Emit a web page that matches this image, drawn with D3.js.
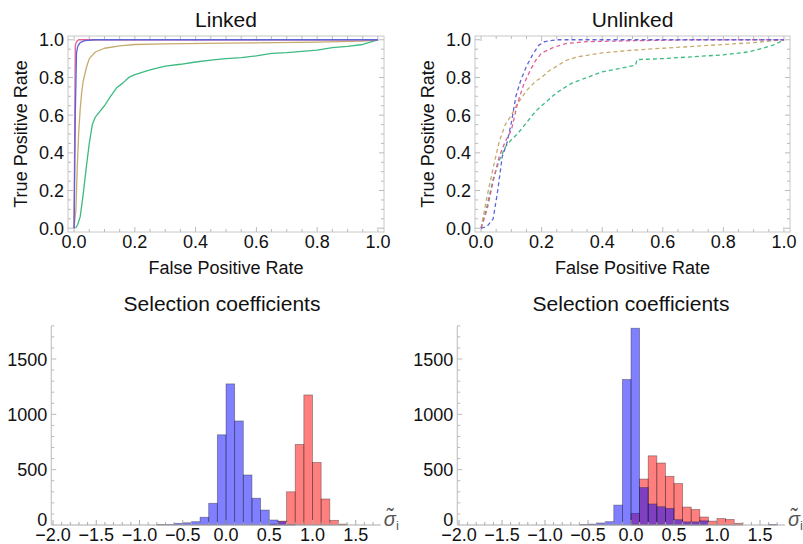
<!DOCTYPE html>
<html><head><meta charset="utf-8">
<script src="https://cdn.jsdelivr.net/npm/d3@7"></script>
<style>
body{margin:0;background:#fff}
text{font-family:"Liberation Sans",Arial,Helvetica,sans-serif;fill:#111}
</style>
</head><body>
<svg id="c" width="803" height="544"></svg>
<script>
// ---------- ROC data (False Positive Rate, True Positive Rate) ----------
const linkedBlue  = [[0,0],[0.004,0.6],[0.008,0.93],[0.012,0.965],[0.02,0.985],[0.035,0.995],[0.07,1],[1,1]];
const linkedPink  = [[0,0],[0.002,0.5],[0.004,0.97],[0.008,0.99],[0.015,1],[1,1]];
const linkedTan   = [[0,0],[0.006,0.1],[0.01,0.3],[0.015,0.5],[0.02,0.63],[0.025,0.72],[0.03,0.78],[0.04,0.85],[0.05,0.9],[0.07,0.935],[0.1,0.955],[0.15,0.968],[0.2,0.975],[0.3,0.978],[0.5,0.982],[0.8,0.988],[0.95,0.993],[1,1]];
const linkedGreen = [[0.005,0],[0.012,0.02],[0.02,0.06],[0.03,0.18],[0.04,0.32],[0.05,0.45],[0.06,0.55],[0.07,0.59],[0.085,0.62],[0.1,0.65],[0.12,0.7],[0.14,0.745],[0.16,0.77],[0.18,0.8],[0.2,0.815],[0.25,0.84],[0.3,0.86],[0.35,0.87],[0.4,0.882],[0.45,0.892],[0.5,0.9],[0.55,0.905],[0.6,0.915],[0.65,0.928],[0.7,0.932],[0.75,0.938],[0.8,0.945],[0.85,0.958],[0.9,0.965],[0.95,0.975],[0.98,0.99],[1,1]];

const unlinkedBlue  = [[0,0],[0.02,0.01],[0.04,0.05],[0.055,0.2],[0.07,0.38],[0.085,0.45],[0.1,0.56],[0.115,0.7],[0.13,0.78],[0.15,0.86],[0.17,0.92],[0.19,0.97],[0.21,0.99],[0.25,1],[0.3,1],[1,1]];
const unlinkedPink  = [[0,0],[0.02,0.1],[0.04,0.25],[0.06,0.38],[0.08,0.46],[0.1,0.52],[0.12,0.66],[0.14,0.76],[0.16,0.83],[0.18,0.89],[0.2,0.93],[0.24,0.96],[0.28,0.98],[0.35,0.99],[0.5,0.995],[0.7,1],[1,1]];
const unlinkedTan   = [[0,0],[0.02,0.17],[0.04,0.32],[0.06,0.46],[0.08,0.55],[0.1,0.6],[0.12,0.66],[0.15,0.73],[0.18,0.78],[0.2,0.8],[0.22,0.83],[0.25,0.86],[0.28,0.89],[0.32,0.91],[0.4,0.93],[0.5,0.945],[0.6,0.955],[0.7,0.965],[0.8,0.975],[0.9,0.985],[1,1]];
const unlinkedGreen = [[0,0],[0.02,0.12],[0.04,0.26],[0.06,0.36],[0.08,0.43],[0.1,0.47],[0.12,0.5],[0.15,0.56],[0.18,0.62],[0.2,0.65],[0.25,0.72],[0.3,0.77],[0.35,0.8],[0.4,0.83],[0.45,0.845],[0.51,0.865],[0.515,0.895],[0.6,0.9],[0.7,0.91],[0.8,0.92],[0.88,0.935],[0.93,0.955],[0.97,0.975],[1,1]];

const rocTicks = [0.0,0.2,0.4,0.6,0.8,1.0];

// ---------- Histogram data (bin left edges, bin width 0.1) ----------
const binStarts = [-0.9,-0.8,-0.7,-0.6,-0.5,-0.4,-0.3,-0.2,-0.1,0.0,0.1,0.2,0.3,0.4,0.5,0.6,0.7,0.8,0.9,1.0,1.1,1.2,1.3,1.4,1.5,1.6];
const linkedNeutral    = [0,5,5,15,20,30,70,196,815,1275,940,452,242,135,45,30,3,0,0,0,0,0,0,0,0,0];
const linkedSelected   = [0,0,0,0,0,0,0,0,0,0,0,0,0,0,8,35,300,728,1175,565,235,42,8,0,0,0];
const unlinkedNeutral  = [0,0,0,4,8,18,30,180,1315,1778,338,190,165,150,48,28,28,38,0,0,0,0,0,0,0,5];
const unlinkedSelected = [0,0,0,0,0,0,0,0,0,105,415,625,560,440,375,162,140,72,35,58,50,15,0,0,0,0];
const histXTicks = [-2.0,-1.5,-1.0,-0.5,0.0,0.5,1.0,1.5];
const histYTicks = [0,500,1000,1500];

const svg = d3.select("#c");
svg.append("rect").attr("width",803).attr("height",544).attr("fill","#fff");

const colors = {blue:"#5f63d8", pink:"#df5f97", tan:"#c6ab6c", green:"#3cba80"};
const fmt = d3.format(".1f");
const minusFmt = v => fmt(v).replace("-","\u2212");

function drawROC(cfg){
  const g = svg.append("g");
  const x = d3.scaleLinear().domain([-0.02,1.02]).range([cfg.left,cfg.right]);
  const y = d3.scaleLinear().domain([-0.02,1.02]).range([cfg.bottom,cfg.top]);
  g.append("rect").attr("x",cfg.left).attr("y",cfg.top)
    .attr("width",cfg.right-cfg.left).attr("height",cfg.bottom-cfg.top)
    .attr("fill","none").attr("stroke","#c8c8c8").attr("stroke-width",1);
  const minor = d3.range(0,1.0001,0.05);
  minor.forEach(v=>{
    const major = Math.abs(v*5-Math.round(v*5))<1e-6;
    const L = major?5:3;
    g.append("line").attr("x1",x(v)).attr("x2",x(v)).attr("y1",cfg.bottom).attr("y2",cfg.bottom-L).attr("stroke","#bbb");
    g.append("line").attr("x1",x(v)).attr("x2",x(v)).attr("y1",cfg.top).attr("y2",cfg.top+L).attr("stroke","#bbb");
    g.append("line").attr("y1",y(v)).attr("y2",y(v)).attr("x1",cfg.left).attr("x2",cfg.left+L).attr("stroke","#bbb");
    g.append("line").attr("y1",y(v)).attr("y2",y(v)).attr("x1",cfg.right).attr("x2",cfg.right-L).attr("stroke","#bbb");
  });
  rocTicks.forEach(v=>{
    g.append("text").attr("x",x(v)).attr("y",cfg.bottom+16).attr("text-anchor","middle")
      .attr("font-size",18).text(fmt(v));
    g.append("text").attr("x",cfg.left-4).attr("y",y(v)+6.5).attr("text-anchor","end")
      .attr("font-size",18).text(fmt(v));
  });
  const line = d3.line().x(d=>x(d[0])).y(d=>y(d[1]));
  cfg.series.forEach(s=>{
    g.append("path").attr("d",line(s.data)).attr("fill","none")
      .attr("stroke",s.color).attr("stroke-width",1.3)
      .attr("stroke-dasharray",cfg.dashed?"4,3":null)
      .attr("stroke-linejoin","round");
  });
  const cx=(cfg.left+cfg.right)/2;
  g.append("text").attr("x",cx).attr("y",27).attr("text-anchor","middle").attr("font-size",21).text(cfg.title);
  g.append("text").attr("x",cx).attr("y",cfg.bottom+42).attr("text-anchor","middle").attr("font-size",18).text("False Positive Rate");
  g.append("text").attr("transform",`translate(${cfg.left-41},${(cfg.top+cfg.bottom)/2}) rotate(-90)`)
    .attr("text-anchor","middle").attr("font-size",18).text("True Positive Rate");
}

drawROC({title:"Linked", left:68, right:384, top:36, bottom:232, dashed:false,
  series:[{data:linkedTan,color:colors.tan},{data:linkedGreen,color:colors.green},
          {data:linkedPink,color:colors.pink},{data:linkedBlue,color:colors.blue}]});
drawROC({title:"Unlinked", left:475, right:790, top:36, bottom:232, dashed:true,
  series:[{data:unlinkedGreen,color:colors.green},{data:unlinkedTan,color:colors.tan},
          {data:unlinkedPink,color:colors.pink},{data:unlinkedBlue,color:colors.blue}]});

function drawHist(cfg){
  const g = svg.append("g");
  const x = d3.scaleLinear().domain([0,1]).range([cfg.x0, cfg.x0+cfg.unit]);
  const y = d3.scaleLinear().domain([0,1500]).range([525,359]);
  const axL = x(-2.02), axR = x(1.79);
  [{vals:cfg.selected,fill:"#ff0000"},{vals:cfg.neutral,fill:"#0000ff"}].forEach(s=>{
    g.selectAll(null).data(binStarts.map((b,i)=>({b,v:s.vals[i]})).filter(d=>d.v>0))
      .enter().append("rect")
      .attr("x",d=>x(d.b)).attr("width",d=>x(d.b+0.1)-x(d.b))
      .attr("y",d=>y(d.v)).attr("height",d=>y(0)-y(d.v))
      .attr("fill",s.fill).attr("fill-opacity",0.5)
      .attr("stroke","#222").attr("stroke-opacity",0.45).attr("stroke-width",0.8);
  });
  g.append("line").attr("x1",axL).attr("x2",axR).attr("y1",y(0)).attr("y2",y(0)).attr("stroke","#aaa");
  g.append("line").attr("x1",axL).attr("x2",axL).attr("y1",y(0)).attr("y2",y(1800)).attr("stroke","#bbb");
  d3.range(-2.0,1.75,0.1).forEach(v=>{
    const major = Math.abs(v*2-Math.round(v*2))<1e-6;
    g.append("line").attr("x1",x(v)).attr("x2",x(v)).attr("y1",y(0)).attr("y2",y(0)-(major?5:3)).attr("stroke","#aaa");
  });
  d3.range(100,1801,100).forEach(v=>{
    const major = v%500===0;
    g.append("line").attr("y1",y(v)).attr("y2",y(v)).attr("x1",axL).attr("x2",axL+(major?5:3)).attr("stroke","#bbb");
  });
  histXTicks.forEach(v=>{
    g.append("text").attr("x",x(v)).attr("y",y(0)+16).attr("text-anchor","middle")
      .attr("font-size",18).text(minusFmt(v));
  });
  histYTicks.forEach(v=>{
    g.append("text").attr("x",axL-4).attr("y",y(v)+(v===0?1:6.5)).attr("text-anchor","end")
      .attr("font-size",18).text(v);
  });
  const t = g.append("text").attr("x",axR+3).attr("y",y(0)+1).attr("font-size",20)
    .style("fill","#555").style("font-style","italic");
  t.append("tspan").text("\u03C3\u0303");
  t.append("tspan").attr("font-size",13).attr("dy",4).style("font-style","normal").text("i");
  g.append("text").attr("x",cfg.cx).attr("y",311).attr("text-anchor","middle").attr("font-size",21).text("Selection coefficients");
}

drawHist({x0:226, unit:86.5, cx:222, neutral:linkedNeutral, selected:linkedSelected});
drawHist({x0:631, unit:86, cx:631, neutral:unlinkedNeutral, selected:unlinkedSelected});
</script>
</body></html>
